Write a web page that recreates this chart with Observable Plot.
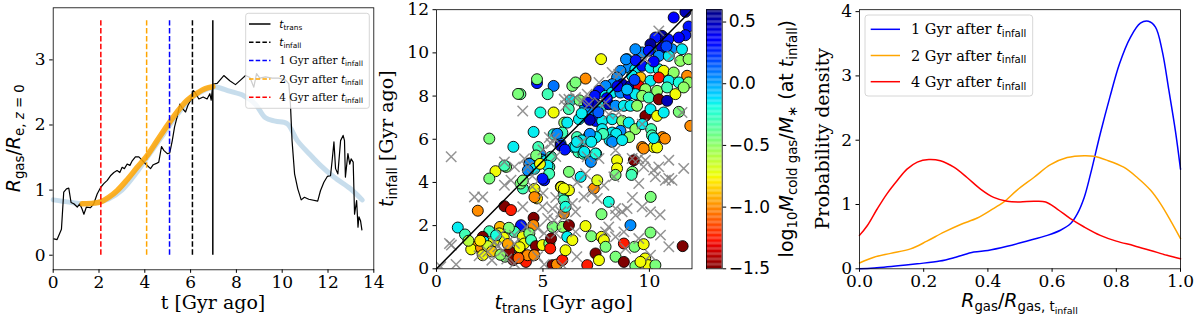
<!DOCTYPE html>
<html><head><meta charset="utf-8">
<script src="https://cdn.jsdelivr.net/npm/d3@7"></script>
<script src="https://cdn.jsdelivr.net/npm/@observablehq/plot@0.6"></script>
<style>
body{margin:0;background:#fff;}
#wrap{position:relative;width:1200px;height:322px;overflow:hidden;background:#fff;}
#wrap svg{position:absolute;left:0;top:0;}
text{white-space:pre;}
</style></head><body><div id="wrap"></div><script>
// ---------- Panel 1 data ----------
const tBlack = [0.03,0.17,0.36,0.46,0.58,0.68,0.78,0.9,1.05,1.16,1.26,1.34,1.45,1.63,1.77,1.92,2.07,2.21,2.36,2.5,2.65,2.79,2.91,3.01,3.11,3.23,3.35,3.45,3.59,3.74,3.88,4.07,4.25,4.37,4.51,4.61,4.73,4.83,4.98,5.09,5.2,5.3,5.41,5.53,5.65,5.78,5.88,6.0,6.11,6.2,6.36,6.55,6.72,6.84,6.9,6.97,7.01,7.16,7.45,7.71,7.96,8.18,8.4,8.59,8.76,8.88,9.02,9.27,9.56,9.85,10.15,10.29,10.36,10.43,10.54,10.68,10.83,10.97,11.16,11.55,11.67,11.82,11.97,12.11,12.18,12.26,12.33,12.43,12.55,12.66,12.72,12.76,12.87,12.95,13.01,13.1,13.16,13.25,13.31,13.35,13.42,13.48];
const rBlack = [0.25,0.24,0.40,0.97,1.02,1.03,0.81,0.79,0.74,0.79,0.71,0.63,0.74,0.73,0.79,0.94,1.04,1.10,1.15,1.22,1.27,1.30,1.27,1.35,1.33,1.40,1.38,1.45,1.51,1.51,1.46,1.39,1.33,1.39,1.41,1.43,1.67,1.61,1.56,1.57,1.76,1.97,2.12,2.32,2.25,2.20,2.30,2.38,2.53,2.50,2.40,2.43,2.40,2.48,2.38,2.63,2.63,2.64,2.76,2.68,2.62,2.69,2.76,2.73,2.58,2.79,2.72,2.74,2.72,2.72,2.69,2.63,2.32,1.76,1.25,1.02,0.85,0.89,0.86,0.83,0.99,1.12,1.21,1.22,1.45,1.74,1.33,1.25,1.76,1.84,1.76,1.20,1.56,1.40,1.48,1.43,0.63,0.84,0.43,0.59,0.53,0.39];
const tBlue = [0.0,0.4,0.8,1.27,1.8,2.4,3.0,3.6,4.2,4.8,5.4,6.0,6.5,7.0,7.16,7.7,8.32,8.83,9.27,9.7,10.22,10.66,11.2,11.67,12.26,12.98,13.49];
const rBlue = [0.85,0.83,0.81,0.79,0.80,0.86,1.0,1.25,1.55,1.85,2.15,2.4,2.52,2.58,2.58,2.52,2.45,2.32,2.11,2.06,2.02,1.76,1.55,1.38,1.20,1.02,0.85];
const tOrange = [1.27,1.77,2.07,2.43,2.79,3.23,3.67,4.10,4.54,4.98,5.41,5.85,6.29,6.65,6.97];
const rOrange = [0.79,0.80,0.82,0.89,0.99,1.16,1.35,1.53,1.76,1.99,2.20,2.38,2.49,2.56,2.59];
const vlineT = [6.97, 6.08, 5.08, 4.08, 2.08];
const vlineColor = ["black","black","blue","orange","red"];
const vlineTop = 3.6;
const p1XTicks = [0,2,4,6,8,10,12,14];
const p1YTicks = [0,1,2,3];

// ---------- Panel 2 data: [t_trans, t_infall, log10 Mcold/M*] ----------
const circles = [
[4.72,8.6,0.3],[4.72,8.78,-0.45],[5.5,8.47,0.1],[3.94,8.09,-0.4],[5.22,8.09,-0.3],[4.88,7.24,-0.2],[5.5,7.24,-0.75],[4.56,6.34,-0.15],[5.5,6.23,-0.2],[2.48,6.03,-0.45],[6.0,6.77,-0.5],[3.83,8.1,-0.45],
[11.69,11.9,0.5],[11.14,11.64,0.35],[11.84,11.22,0.3],[11.69,10.82,0.3],[10.59,10.79,0.55],[10.28,10.71,0.3],[10.88,10.63,0.3],[11.38,10.71,0.35],[10.59,10.25,0.45],[11.06,10.17,0.05],[11.53,10.17,-0.15],[10.05,10.17,-0.15],[9.66,10.02,0.05],[9.34,10.17,0.05],[10.44,9.86,0.05],[10.91,9.86,-0.15],[11.45,9.63,-0.5],[11.84,9.71,-0.5],[8.95,9.71,-0.15],[9.03,9.32,0.05],[9.34,9.24,-0.15],[9.66,9.4,0.3],[10.05,9.32,-0.15],[10.44,9.24,-0.2],[10.67,9.17,-0.75],[11.14,9.09,-0.5],[11.77,8.94,-1.0],[9.19,8.94,-0.15],[9.58,8.86,-0.9],[7.73,9.71,-0.75],[10.05,8.71,-0.15],[10.44,8.86,-1.25],[10.91,8.71,-0.15],[11.38,8.63,-0.2],[11.84,8.63,-0.5],[8.64,9.17,0.05],[8.48,8.86,0.05],[8.25,8.55,0.05],[8.72,8.55,0.5],[9.11,8.47,0.5],[9.5,8.47,-1.3],[9.81,8.32,-0.5],[10.36,8.24,-0.5],[10.83,8.4,-0.3],[11.22,8.09,-0.75],[11.61,8.4,-0.5],[7.94,8.47,0.05],[7.63,8.24,0.3],[7.44,8.01,0.3],[7.94,8.01,-0.15],[8.25,8.16,-0.15],[8.64,8.16,0.05],[9.03,8.09,0.3],[9.34,8.09,-0.15],[9.66,8.01,-0.5],[9.97,7.93,-0.3],[10.44,7.85,-1.5],[10.83,7.78,0.5],[7.0,8.81,-1.0],[6.38,8.47,-0.45],[6.53,8.63,-0.45],[7.47,7.62,0.5],[7.78,7.55,-0.15],[8.09,7.62,0.5],[8.41,7.55,0.05],[8.8,7.55,-0.15],[9.11,7.55,-0.15],[9.42,7.55,-0.5],[9.81,7.08,-1.5],[10.05,7.39,-0.15],[10.36,7.08,-0.75],[10.67,7.24,-0.15],[11.38,7.27,-0.45],[11.92,6.62,-1.0],[7.16,7.24,0.05],[6.84,7.08,-0.15],[6.69,6.93,-0.15],[7.47,6.85,0.3],[7.78,6.85,-0.15],[8.25,6.93,-0.15],[8.72,6.85,-0.5],[9.03,6.77,-0.15],[9.34,6.47,-0.5],[9.66,6.7,-0.15],[10.08,6.47,-0.3],[6.14,6.77,-0.15],[5.91,6.31,-0.3],[7.16,6.16,-0.3],[7.78,6.47,-0.15],[8.25,6.31,-0.15],[8.64,6.39,0.05],
[7.2,6.9,0.5],[6.98,7.5,0.05],[6.82,7.2,-0.15],[6.3,7.8,-0.15],[6.21,7.4,-0.3],[6.72,7.8,-0.45],[8.9,9.7,0.05],[9.36,9.65,0.3],[10.05,10.4,0.55],[9.97,10.1,0.3],[10.6,6.1,-1.0],[10.2,5.64,-0.75],[9.66,5.64,-1.0],[10.12,6.18,-0.3],[9.05,6.1,-0.5],[8.44,6.25,-0.15],[8.13,5.95,-0.15],[7.82,6.25,-0.3],[7.5,6.1,-0.15],[7.2,6.25,0.05],[6.6,6.1,-0.3],[6.82,5.95,-0.15],[6.44,5.64,-0.15],[6.67,5.4,-0.3],[6.9,5.33,-0.3],[7.2,5.17,-0.3],[7.5,5.33,-0.15],[5.83,5.79,0.05],[5.83,5.7,0.45],[5.67,6.25,0.05],
[8.0,7.9,0.35],[8.5,8.45,0.4],[9.3,8.75,0.2],[10.2,9.6,0.35],[10.8,10.3,0.2],[7.1,7.7,0.4],[7.6,7.25,0.15],[8.95,8.3,-0.05],
[3.61,5.65,-0.15],[2.77,4.52,-0.75],[2.48,4.18,-0.45],[3.27,4.72,-0.45],[4.06,3.72,-0.3],[3.95,3.95,-0.45],[4.36,4.88,0.1],[4.59,4.8,0.05],[4.88,5.31,0.05],[4.94,5.06,0.05],[5.14,5.0,-0.15],[5.3,4.72,-0.3],[5.38,5.19,-0.3],[5.06,4.1,0.3],[5.84,3.8,-0.75],[4.72,3.26,-0.8],[1.94,2.69,-1.0],[3.19,2.9,-1.5],[3.5,2.72,-1.25],[4.56,2.36,-1.5],[4.55,2.02,-1.0],[3.97,2.02,0.3],[1.0,1.91,-0.15],[1.34,1.59,-0.3],[2.48,1.74,-0.3],[2.98,1.94,-0.9],[2.95,1.64,-0.75],[3.16,1.44,-0.75],[2.17,1.48,-1.5],[2.25,1.25,-0.15],[2.69,1.28,-0.75],[1.81,1.02,-0.95],[1.63,0.9,-0.75],[2.09,0.97,-1.0],[2.17,0.63,-0.75],[3.22,0.56,-0.45],[3.42,0.82,-1.5],[3.61,0.4,-1.5],[3.97,0.74,-1.5],[3.66,1.71,-0.3],[4.05,1.48,-0.75],[4.12,1.17,-0.75],[4.36,1.64,-0.45],[4.44,1.33,-0.3],[4.67,1.05,-1.5],[4.98,1.1,-0.75],[5.3,1.17,-0.45],[5.38,1.4,-1.5],[5.34,0.94,-1.25],[5.45,1.94,-0.45],[5.92,1.94,-0.5],[4.2,0.32,-1.25],[4.28,0.63,-1.0],[4.59,0.63,-1.0],[5.45,0.17,-1.5],[5.66,0.2,-1.0],
[2.4,1.05,-0.65],[2.6,0.8,-0.85],[3.0,0.65,-0.5],[3.35,1.15,-0.95],[3.85,0.5,-1.1],[3.9,1.0,-0.75],[1.5,1.3,-0.6],[2.8,1.55,-0.2],[3.4,1.9,-0.45],[2.05,1.3,-0.8],
[4.37,4.86,0.05],[4.6,4.63,-0.15],[4.29,4.56,0.05],[5.21,4.78,-0.15],[5.29,4.4,-0.3],[4.98,4.17,0.3],[3.19,4.78,-0.3],[4.06,4.09,-0.45],[4.6,3.7,-0.75],[4.6,3.32,-1.0],[5.98,3.47,-0.3],[5.98,3.17,-0.3],[5.86,3.78,-0.75],[4.78,5.64,-0.3],[4.68,5.25,-0.45],[4.86,4.86,-0.75],
[6.03,5.52,0.3],[6.53,5.65,-0.15],[6.6,5.88,-0.15],[6.94,5.42,-0.15],[7.27,5.88,-0.15],[7.25,4.95,0.05],[7.47,5.34,-0.2],[8.25,5.88,0.05],[8.72,5.96,-0.15],[9.73,5.57,-1.0],[10.36,5.62,-0.75],[10.73,6.03,-1.0],[10.2,6.05,-0.15],[6.22,4.49,-0.45],[6.77,4.26,-0.15],[6.22,3.64,-0.75],[5.98,3.72,-0.75],[7.39,3.72,-1.0],[7.55,4.1,-0.7],[8.48,5.03,-0.75],[8.48,4.65,-0.75],[8.41,4.35,-0.45],[9.2,4.49,-0.45],[9.27,5.03,-1.5],[9.16,4.35,-0.3],[8.09,3.1,-0.2],[10.06,3.33,-0.45],[7.75,2.53,-0.45],[5.98,2.56,-1.0],[6.06,2.87,-0.2],[7.0,1.98,-0.75],[6.22,2.02,-1.5],[6.14,1.48,-0.15],[6.38,1.33,-0.75],[7.27,1.51,-0.45],[7.75,1.48,-0.75],[7.86,1.33,-0.75],[7.94,1.02,-0.45],[7.47,0.71,-1.5],[7.63,0.4,-0.75],[8.41,0.56,-0.45],[8.8,1.17,-1.25],[8.8,0.32,-1.5],[9.11,2.02,0.05],[9.3,1.02,-0.45],[9.73,1.14,-0.75],[10.05,1.68,-0.45],[9.34,0.12,-0.45],[9.8,0.48,-0.75],[9.94,0.17,-0.75],[10.28,0.17,-0.45],[9.58,0.32,-0.75],[7.08,0.17,-1.25],[11.56,1.05,-1.5],[5.91,0.4,-1.25],[6.06,0.86,-0.75]
];
const crosses = [
[4.05,7.31],[6.0,7.85],[5.3,6.08],
[0.69,5.19],[3.19,4.95],[3.19,3.87],[3.5,4.1],[1.78,3.33],[2.17,3.33],[4.05,2.87],[4.13,5.1],[4.28,4.72],[3.66,4.72],[5.53,6.03],[5.38,5.8],[0.61,1.17],[0.7,1.1],[0.92,0.2],[0.2,0.1],[2.41,0.79],[2.72,1.25],[2.88,1.02],[3.66,1.56],[3.66,1.17],[3.11,0.86],[3.66,0.25],[4.98,2.87],[5.45,2.79],[5.84,2.64],[5.22,2.33],[5.53,2.25],[4.75,1.87],[5.61,1.64],[5.06,1.64],[4.2,1.94],[5.92,0.17],[4.75,0.56],[5.06,0.2],[4.5,4.3],[5.0,5.5],[5.6,5.2],
[2.6,0.4],[3.0,1.6],[3.3,0.45],[2.0,0.6],[4.5,3.8],[5.0,3.5],[5.6,3.3],[6.6,4.0],[7.0,4.4],[9.2,3.3],[10.5,2.5],
[6.84,5.88],[7.08,5.19],[7.63,5.11],[8.41,5.49],[8.33,4.26],[7.86,3.87],[7.31,3.56],[7.55,3.26],[6.92,3.33],[6.38,3.02],[6.53,2.64],[5.98,2.41],[8.41,2.79],[8.72,2.64],[8.41,2.48],[8.95,2.79],[9.66,2.87],[10.05,2.64],[9.19,5.11],[9.5,5.11],[9.81,5.03],[9.5,3.95],[9.73,4.72],[10.2,4.57],[10.44,4.72],[10.91,5.03],[11.61,4.65],[10.75,4.1],[10.91,4.18],[11.06,4.1],[10.28,4.26],[7.94,1.71],[8.09,1.94],[8.8,1.71],[8.41,1.48],[10.52,1.56],[10.91,1.02],[9.5,1.4],[6.53,1.71],[6.59,0.56],[8.88,0.94],[10.05,0.63],
[10.44,11.02],[8.56,9.01],[8.25,9.09],[7.63,8.63],[7.08,8.09],[6.53,7.93],[6.84,7.78],[6.22,7.85],[6.06,7.55],[7.63,7.7],[7.94,7.7],[7.16,7.62],[9.66,6.7],[11.53,7.24],[8.09,7.16],[8.56,7.24],[9.81,9.71],[11.06,9.86]
];
const diag = [0, 12];
const p2Ticks = [0, 5, 10];
const p2YTicks = [0,2,4,6,8,10,12];
const cbDomain = [-1.5, 0.6];
const cbTicks = [-1.5,-1.0,-0.5,0.0,0.5];

// ---------- Panel 3 data ----------
const x1 = [0,0.076,0.128,0.18,0.25,0.30,0.356,0.40,0.46,0.52,0.585,0.626,0.657,0.678,0.70,0.72,0.75,0.78,0.81,0.844,0.875,0.90,0.922,0.943,0.964,0.984,1.0];
const y1 = [0.0,0.026,0.05,0.078,0.12,0.18,0.26,0.285,0.35,0.43,0.52,0.60,0.70,0.85,1.11,1.48,2.10,2.67,3.19,3.60,3.82,3.85,3.76,3.39,2.77,2.15,1.55];
const x2 = [0,0.045,0.097,0.159,0.21,0.263,0.315,0.367,0.408,0.45,0.49,0.543,0.595,0.647,0.70,0.73,0.77,0.823,0.865,0.907,0.938,0.969,1.0];
const y2 = [0.09,0.18,0.24,0.31,0.43,0.57,0.69,0.79,0.91,1.04,1.22,1.42,1.62,1.73,1.76,1.75,1.69,1.58,1.42,1.22,1.01,0.75,0.47];
const x4 = [0,0.024,0.055,0.086,0.117,0.148,0.18,0.216,0.252,0.294,0.335,0.377,0.418,0.46,0.50,0.543,0.58,0.616,0.657,0.70,0.75,0.80,0.855,0.907,0.958,1.0];
const y4 = [0.52,0.67,0.93,1.17,1.37,1.55,1.66,1.70,1.68,1.58,1.42,1.24,1.11,1.05,1.04,1.05,1.04,0.93,0.78,0.65,0.52,0.43,0.36,0.285,0.21,0.155];
const p3XTicks = [0,0.2,0.4,0.6,0.8,1.0];
const p3YTicks = [0,1,2,3,4];
const legendLabels = ["1 Gyr after ", "2 Gyr after ", "4 Gyr after "];
const legendColors = ["blue", "orange", "red"];

// ---------- helpers ----------
const W = 1200, H = 322;
const SERIF = "DejaVu Serif", SANS = "DejaVu Sans";
function lerpPts(s, pts){ for(let i=1;i<pts.length;i++){ if(s<=pts[i][0]){ const [a,va]=pts[i-1],[b,vb]=pts[i]; return va+(vb-va)*(s-a)/(b-a);} } return pts[pts.length-1][1]; }
function jet(s){
  s = Math.max(0, Math.min(1, s));
  const r = lerpPts(s, [[0,0],[0.35,0],[0.66,1],[0.89,1],[1,0.5]]);
  const g = lerpPts(s, [[0,0],[0.125,0],[0.375,1],[0.64,1],[0.91,0],[1,0]]);
  const b = lerpPts(s, [[0,0.5],[0.11,1],[0.34,1],[0.65,0],[1,0]]);
  return `rgb(${Math.round(r*255)},${Math.round(g*255)},${Math.round(b*255)})`;
}
const colorScale = {type: "linear", domain: cbDomain, interpolate: (t) => jet(1 - t)};
const zip2 = (xs, ys) => xs.map((x, i) => ({x, y: ys[i]}));
function frameOpts(l, r, t, b, family){
  return {width: W, height: H, marginLeft: l, marginRight: W - r, marginTop: t, marginBottom: H - b,
    style: {fontFamily: family || SERIF, fontSize: "17px", background: "transparent", color: "black", overflow: "visible"}};
}
const wrap = document.getElementById("wrap");
const dash = "5.5,2.4";

// ---------- Panel 1 ----------
const p1 = Plot.plot({
  ...frameOpts(52.7, 373.3, 7.3, 269.3),
  x: {domain: [0, 14], ticks: p1XTicks, tickFormat: "d", tickSize: 3.5, tickPadding: 2.5, label: null},
  y: {domain: [-0.224, 3.80], ticks: p1YTicks, tickFormat: "d", tickSize: 3.5, tickPadding: 4, label: null},
  marks: [
    Plot.line(zip2(tBlue, rBlue), {x: "x", y: "y", stroke: "#1f77b4", strokeOpacity: 0.25, strokeWidth: 5, curve: "catmull-rom"}),
    Plot.line(zip2(tBlack, rBlack), {x: "x", y: "y", stroke: "black", strokeWidth: 1.2}),
    Plot.line(zip2(tOrange, rOrange), {x: "x", y: "y", stroke: "orange", strokeOpacity: 0.85, strokeWidth: 5.5, curve: "catmull-rom"}),
    ...vlineT.map((t, i) => Plot.ruleX([t], {x: d => d, y1: () => 0, y2: () => vlineTop, stroke: vlineColor[i], strokeWidth: 1.5, strokeDasharray: i === 0 ? null : dash})),
    Plot.frame({stroke: "black", strokeWidth: 0.8})
  ]
});
wrap.appendChild(p1);

// ---------- Panel 2 ----------
const p2 = Plot.plot({
  ...frameOpts(436, 691.5, 9.2, 268.3),
  x: {domain: [0, 12], ticks: p2Ticks, tickFormat: "d", tickSize: 3.5, tickPadding: 2.5, label: null},
  y: {domain: [0, 12], ticks: p2YTicks, tickFormat: "d", tickSize: 3.5, tickPadding: 4, label: null},
  color: colorScale,
  marks: [
    Plot.dot(circles, {x: d => d[0], y: d => d[1], fill: d => d[2], r: 5.5, stroke: "black", strokeWidth: 0.9, clip: true}),
    Plot.dot(crosses, {x: d => d[0], y: d => d[1], symbol: "times", r: 4.8, stroke: "#808080", strokeWidth: 1.5, strokeOpacity: 0.85, clip: true}),
    Plot.line(diag, {x: d => d, y: d => d, stroke: "black", strokeWidth: 1.5}),
    Plot.frame({stroke: "black", strokeWidth: 0.8})
  ]
});
wrap.appendChild(p2);

// ---------- Colorbar ----------
const cbSteps = d3.range(cbDomain[0], cbDomain[1], 0.01);
const cb = Plot.plot({
  ...frameOpts(706, 721.7, 9.2, 268.3, SANS),
  x: {domain: [0, 1], axis: null},
  y: {domain: cbDomain, ticks: cbTicks, tickFormat: ".1f", axis: "right", tickSize: 3.5, tickPadding: 3, label: null},
  color: colorScale,
  marks: [
    Plot.rect(cbSteps, {x1: () => 0, x2: () => 1, y1: d => d, y2: d => Math.min(d + 0.0105, cbDomain[1]), fill: d => d + 0.005}),
    Plot.frame({stroke: "black", strokeWidth: 0.8})
  ]
});
wrap.appendChild(cb);

// ---------- Panel 3 ----------
const p3 = Plot.plot({
  ...frameOpts(859, 1180, 9.2, 268.3),
  x: {domain: [0, 1], ticks: p3XTicks, tickFormat: ".1f", tickSize: 3.5, tickPadding: 2.5, label: null},
  y: {domain: [0, 4.03], ticks: p3YTicks, tickFormat: "d", tickSize: 3.5, tickPadding: 4, label: null},
  marks: [
    Plot.line(zip2(x1, y1), {x: "x", y: "y", stroke: "blue", strokeWidth: 1.5, curve: "catmull-rom"}),
    Plot.line(zip2(x2, y2), {x: "x", y: "y", stroke: "orange", strokeWidth: 1.5, curve: "catmull-rom"}),
    Plot.line(zip2(x4, y4), {x: "x", y: "y", stroke: "red", strokeWidth: 1.5, curve: "catmull-rom"}),
    Plot.frame({stroke: "black", strokeWidth: 0.8})
  ]
});
wrap.appendChild(p3);

// ---------- Overlay: labels and legends ----------
const ov = d3.create("svg").attr("width", W).attr("height", H);
function rich(x, y, parts, size, opts = {}){
  const t = ov.append("text")
    .attr("transform", `translate(${x},${y}) rotate(${opts.rotate || 0})`)
    .attr("text-anchor", opts.anchor || "start").attr("fill", "black");
  let shift = 0;
  for (const p of parts){
    const lvl = p.sub || 0;
    const fs = size * [1, 0.7, 0.5][lvl];
    const target = [0, 0.2 * size, 0.36 * size][lvl];
    t.append("tspan").text(p.t)
      .attr("font-size", fs).attr("font-family", p.f || SANS)
      .attr("font-style", p.i ? "italic" : "normal")
      .attr("dy", target - shift);
    shift = target;
  }
  return t;
}
// axis labels
rich(20, 138.3, [{t:"R",i:1},{t:"gas",sub:1},{t:"/"},{t:"R",i:1},{t:"e, ",sub:1},{t:"z",sub:1,i:1},{t:" = 0",sub:1}], 19, {anchor:"middle", rotate:-90});
rich(213, 309, [{t:"t [Gyr ago]", f:SERIF}], 19, {anchor:"middle"});
rich(393, 138.7, [{t:"t",i:1},{t:"infall",sub:1},{t:" [Gyr ago]", f:SERIF}], 19, {anchor:"middle", rotate:-90});
rich(563.7, 309, [{t:"t",i:1},{t:"trans",sub:1},{t:" [Gyr ago]", f:SERIF}], 19, {anchor:"middle"});
rich(793, 138.7, [{t:"log"},{t:"10",sub:1},{t:"M",i:1},{t:"cold gas",sub:1},{t:"/"},{t:"M",i:1},{t:"\u2217",sub:1},{t:" (at "},{t:"t",i:1},{t:"infall",sub:1},{t:")"}], 19, {anchor:"middle", rotate:-90});
rich(829, 138.7, [{t:"Probability density", f:SERIF}], 19, {anchor:"middle", rotate:-90});
rich(1019.5, 307, [{t:"R",i:1},{t:"gas",sub:1},{t:"/"},{t:"R",i:1},{t:"gas, t",sub:1},{t:"infall",sub:2}], 19, {anchor:"middle"});

// legend panel 1
const lg1Labels = [
  [{t:"t",i:1},{t:"trans",sub:1}],
  [{t:"t",i:1},{t:"infall",sub:1}],
  [{t:"1 Gyr after ",f:SERIF},{t:"t",i:1},{t:"infall",sub:1}],
  [{t:"2 Gyr after ",f:SERIF},{t:"t",i:1},{t:"infall",sub:1}],
  [{t:"4 Gyr after ",f:SERIF},{t:"t",i:1},{t:"infall",sub:1}]
];
const lg1Colors = ["black","black","blue","orange","red"];
ov.append("rect").attr("x",245.7).attr("y",13.3).attr("width",123.6).attr("height",95).attr("rx",2.5)
  .attr("fill","white").attr("fill-opacity",0.8).attr("stroke","#cccccc").attr("stroke-width",0.8);
lg1Labels.forEach((parts, i) => {
  const cy = 24 + i * 18.3;
  ov.append("line").attr("x1",249).attr("x2",270.5).attr("y1",cy).attr("y2",cy)
    .attr("stroke", lg1Colors[i]).attr("stroke-width",1.5).attr("stroke-dasharray", i === 0 ? null : "4.5,2.2");
  rich(279.3, cy + 3.6, parts, 10.5);
});

// legend panel 3
ov.append("rect").attr("x",865).attr("y",15).attr("width",167.7).attr("height",81).attr("rx",3)
  .attr("fill","white").attr("fill-opacity",0.8).attr("stroke","#cccccc").attr("stroke-width",0.8);
legendLabels.forEach((lab, i) => {
  const cy = 29.3 + i * 26.2;
  ov.append("line").attr("x1",870.7).attr("x2",900).attr("y1",cy).attr("y2",cy)
    .attr("stroke", legendColors[i]).attr("stroke-width",1.5);
  rich(911, cy + 5, [{t:lab,f:SERIF},{t:"t",i:1},{t:"infall",sub:1}], 14.5);
});
wrap.appendChild(ov.node());
</script></body></html>
